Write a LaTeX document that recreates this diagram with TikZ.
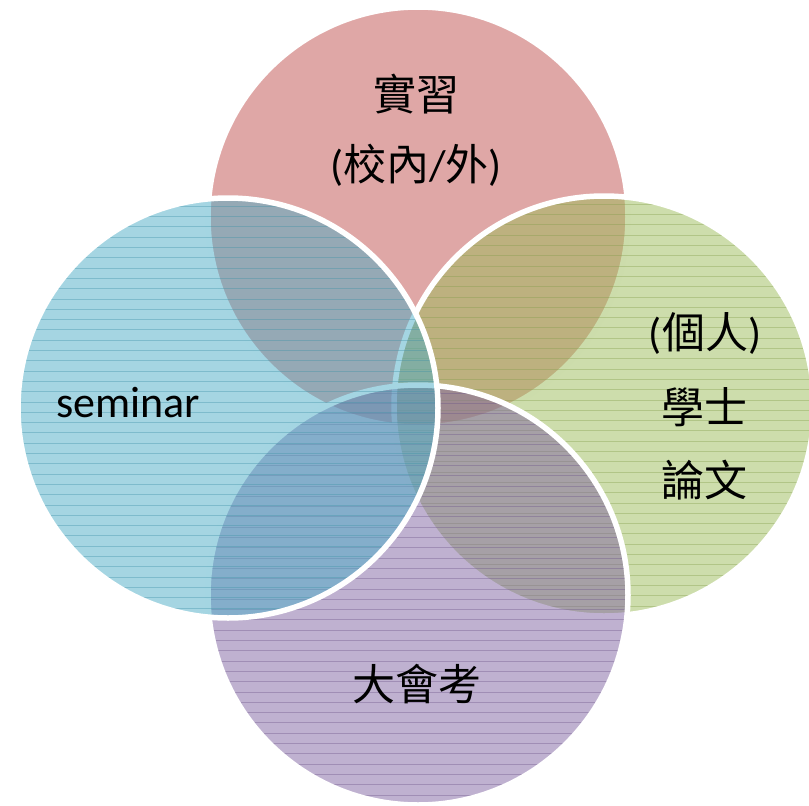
\documentclass[tikz,border=0pt]{standalone}
\usepackage{fontspec}
\setmainfont{Carlito}
\newfontfamily\cjk{Noto Sans CJK TC}
\definecolor{cred}{RGB}{192,80,77}
\definecolor{cblue}{RGB}{75,172,198}
\definecolor{cgreen}{RGB}{155,187,89}
\definecolor{cpurple}{RGB}{128,100,162}
\newcommand\lat[1]{{\fontspec{Carlito}#1}}
\tikzset{
  vennfill/.style={fill=#1, fill opacity=0.5},
  hatchline/.style={draw=#1!85!black, draw opacity=0.38, line width=0.9},
  vennedge/.style={draw=white, line width=5.5},
  cjklabel/.style={font=\cjk\fontsize{43}{50}\selectfont, text=black, inner sep=0pt, align=center},
  latlabel/.style={font=\fontsize{44}{52}\selectfont, text=black, inner sep=0pt}
}
\newcommand\venncirc[4]{% x, y, colour, hatched?
  \fill[vennfill=#3] (#1,#2) circle (210);
  \ifnum#4=1
  \begin{scope}
    \clip (#1,#2) circle (210);
    \foreach \k in {0,...,42}
      \draw[hatchline=#3] ({#1-215},{#2-212+\k*10.3}) -- ++(430,0);
  \end{scope}
  \fi
  \draw[vennedge] (#1,#2) circle (210);
}
\begin{document}
\begin{tikzpicture}[x=1pt,y=-1pt]
\useasboundingbox (0,0) rectangle (809,806);
\venncirc{418}{217}{cred}{0}
\venncirc{604}{406}{cgreen}{1}
\venncirc{418}{595}{cpurple}{1}
\venncirc{228}{408}{cblue}{1}
\node[cjklabel] (t1) at (416,94) {實習};
\node[cjklabel] (t2) at (416,165) {\lat{(}校內\lat{/}外\lat{)}};
\node[cjklabel] (g1) at (705,333) {\lat{(}個人\lat{)}};
\node[cjklabel] (g2) at (704,407) {學士};
\node[cjklabel] (g3) at (704,480) {論文};
\node[cjklabel] (p1) at (417,684) {大會考};
\node[latlabel, anchor=base] (s1) at (128,417) {seminar};
\end{tikzpicture}
\end{document}
